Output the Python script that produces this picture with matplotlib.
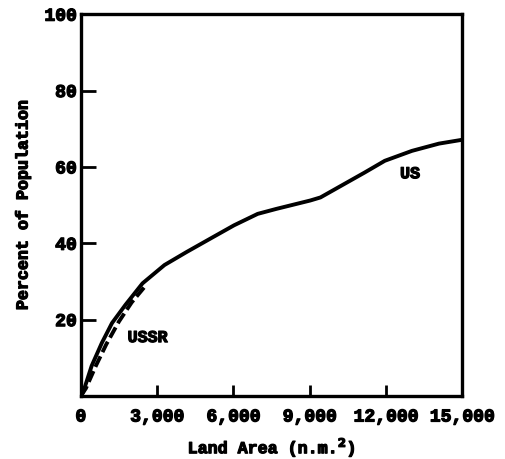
import matplotlib.pyplot as plt
import matplotlib.patheffects as pe

# values (land area in n.m.^2, percent of population)
us_area = [0, 93, 428, 828, 1228, 1760, 2428, 3292, 4160, 5092, 6028, 6960,
           7692, 9028, 9428, 10360, 11160, 11960, 13028, 14092, 15000]
us_pct = [0, 1.0, 7.9, 13.9, 19.1, 23.9, 29.5, 34.3, 37.7, 41.2, 44.7, 47.7,
          49.0, 51.2, 52.0, 55.5, 58.5, 61.6, 64.2, 66.1, 67.1]

ussr_area = [0, 200, 600, 1000, 1500, 2000, 2500]
ussr_pct = [0, 2.0, 8.0, 13.5, 19.5, 24.5, 28.5]

x_ticks = [0, 3000, 6000, 9000, 12000, 15000]
x_labels = ['0', '3,000', '6,000', '9,000', '12,000', '15,000']
y_ticks = [20, 40, 60, 80, 100]

plt.rcParams['font.family'] = ['Liberation Mono', 'DejaVu Sans Mono']
plt.rcParams['font.weight'] = 'bold'
# scanned typewriter text is heavy, thicken the glyphs a bit
heavy = [pe.withStroke(linewidth=0.9, foreground='black')]

fig = plt.figure(figsize=(5.05, 4.6), dpi=100)
ax = fig.add_axes([0.160, 0.137, 0.755, 0.830])

ax.plot(us_area, us_pct, color='black', lw=2.8, solid_capstyle='round', solid_joinstyle='round')
ax.plot(ussr_area, ussr_pct, color='black', lw=2.8, ls=(0, (3, 1.2)))

ax.text(1840, 15.3, 'USSR', fontsize=12, fontweight='bold', va='center', path_effects=heavy)
ax.text(12560, 58.2, 'US', fontsize=12, fontweight='bold', va='center', path_effects=heavy)

ax.set_xlim(0, 15000)
ax.set_ylim(0, 100)
ax.set_xticks(x_ticks)
ax.set_xticklabels(x_labels)
ax.set_yticks(y_ticks)

ax.tick_params(axis='x', direction='in', length=8, width=2, pad=9, labelsize=13)
ax.tick_params(axis='y', direction='in', length=11, width=2, pad=3, labelsize=13)
for lab in ax.get_xticklabels() + ax.get_yticklabels():
    lab.set_path_effects(heavy)
for s in ax.spines.values():
    s.set_linewidth(2.4)

ax.set_xlabel('Land Area (n.m.$^\\mathbf{2}$)', fontsize=12, fontweight='bold', labelpad=7,
              path_effects=heavy)
ax.set_ylabel('Percent of Population', fontsize=12, fontweight='bold', labelpad=10,
              path_effects=heavy)

fig.savefig('out.png', dpi=100)
